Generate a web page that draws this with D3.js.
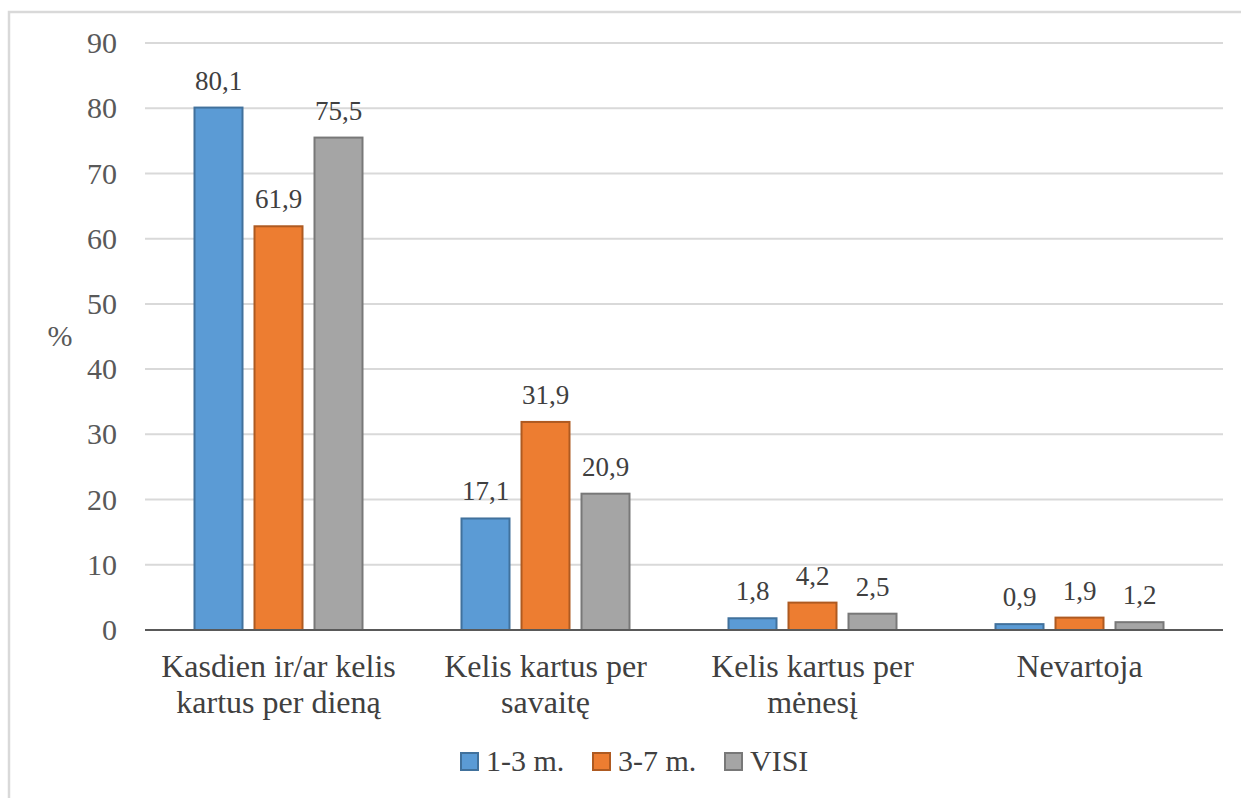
<!DOCTYPE html>
<html>
<head>
<meta charset="utf-8">
<script src="https://cdn.jsdelivr.net/npm/d3@7"></script>
<style>
  html, body { margin: 0; padding: 0; background: #fff; }
</style>
</head>
<body>
<svg id="chart" width="1241" height="798"></svg>
<script>
// Vartojimo dažnis pagal amžiaus grupes (%)
const categories = [
  ["Kasdien ir/ar kelis", "kartus per dieną"],
  ["Kelis kartus per", "savaitę"],
  ["Kelis kartus per", "mėnesį"],
  ["Nevartoja"]
];
const seriesNames = ["1-3 m.", "3-7 m.", "VISI"];
const values13 = [80.1, 17.1, 1.8, 0.9];
const values37 = [61.9, 31.9, 4.2, 1.9];
const valuesVisi = [75.5, 20.9, 2.5, 1.2];
const yTicks = [0, 10, 20, 30, 40, 50, 60, 70, 80, 90];

const fills = ["#5B9BD5", "#ED7D31", "#A5A5A5"];
const strokes = ["#41719C", "#AE5A21", "#787878"];
const seriesValues = [values13, values37, valuesVisi];
const FONT = '"Liberation Serif"';

const svg = d3.select("#chart");

// outer chart frame
svg.append("rect")
  .attr("x", 9).attr("y", 12)
  .attr("width", 1400).attr("height", 1000)
  .attr("fill", "none")
  .attr("stroke", "#d9d9d9")
  .attr("stroke-width", 2.5);

const plotLeft = 145, plotRight = 1223;
const y = d3.scaleLinear().domain([0, 90]).range([630, 43]);

const catIdx = d3.range(categories.length);
const x0 = d3.scaleBand().domain(catIdx).range([plotLeft, 1213]);
const x1 = d3.scaleBand().domain(d3.range(seriesNames.length))
  .range([0, 168]).paddingInner(0.2);

// horizontal gridlines
svg.append("g")
  .selectAll("line")
  .data(yTicks.filter(d => d !== 0))
  .join("line")
  .attr("x1", plotLeft).attr("x2", plotRight)
  .attr("y1", d => y(d)).attr("y2", d => y(d))
  .attr("stroke", "#d9d9d9")
  .attr("stroke-width", 2);

// y axis tick labels
const yAxis = d3.axisLeft(y).tickValues(yTicks).tickSize(0).tickPadding(28);
const gy = svg.append("g").attr("transform", `translate(${plotLeft},0)`).call(yAxis);
gy.attr("font-family", null);
gy.select(".domain").remove();
gy.selectAll("text")
  .style("font-family", FONT)
  .style("font-size", "30px")
  .attr("fill", "#595959");

// y axis title
svg.append("text")
  .attr("x", 60).attr("y", 339)
  .attr("text-anchor", "middle")
  .attr("dominant-baseline", "middle")
  .style("font-family", FONT)
  .style("font-size", "30px")
  .attr("fill", "#595959")
  .text("%");

// bars
const groups = svg.append("g")
  .selectAll("g")
  .data(catIdx)
  .join("g")
  .attr("transform", i => `translate(${x0(i) + x0.bandwidth() / 2 - 84},0)`);

groups.selectAll("rect")
  .data(i => seriesValues.map((vals, s) => ({ s, v: vals[i] })))
  .join("rect")
  .attr("x", d => x1(d.s))
  .attr("width", x1.bandwidth())
  .attr("y", d => y(d.v))
  .attr("height", d => y(0) - y(d.v))
  .attr("fill", d => fills[d.s])
  .attr("stroke", d => strokes[d.s])
  .attr("stroke-width", 2);

// value labels
groups.selectAll("text.val")
  .data(i => seriesValues.map((vals, s) => ({ s, v: vals[i] })))
  .join("text")
  .attr("class", "val")
  .attr("x", d => x1(d.s) + x1.bandwidth() / 2)
  .attr("y", d => y(d.v) - 18)
  .attr("text-anchor", "middle")
  .style("font-family", FONT)
  .style("font-size", "27px")
  .attr("fill", "#404040")
  .text(d => d.v.toFixed(1).replace(".", ","));

// x axis line
svg.append("line")
  .attr("x1", plotLeft).attr("x2", plotRight)
  .attr("y1", y(0)).attr("y2", y(0))
  .attr("stroke", "#595959")
  .attr("stroke-width", 2);

// category labels
const catLabels = svg.append("g")
  .selectAll("text")
  .data(catIdx)
  .join("text")
  .attr("x", i => x0(i) + x0.bandwidth() / 2)
  .attr("y", 677)
  .attr("text-anchor", "middle")
  .style("font-family", FONT)
  .style("font-size", "32px")
  .attr("fill", "#404040");
catLabels.selectAll("tspan")
  .data(i => categories[i].map((t, k) => ({ t, k, i })))
  .join("tspan")
  .attr("x", d => x0(d.i) + x0.bandwidth() / 2)
  .attr("dy", d => d.k === 0 ? 0 : 36)
  .text(d => d.t);

// legend
const legendX = [461, 593, 725];
const legend = svg.append("g")
  .selectAll("g")
  .data(seriesNames)
  .join("g")
  .attr("transform", (d, s) => `translate(${legendX[s]},753)`);
legend.append("rect")
  .attr("width", 17).attr("height", 17)
  .attr("fill", (d, s) => fills[s])
  .attr("stroke", (d, s) => strokes[s])
  .attr("stroke-width", 2);
legend.append("text")
  .attr("x", 25).attr("y", 18)
  .style("font-family", FONT)
  .style("font-size", "30px")
  .attr("fill", "#404040")
  .text(d => d);
</script>
</body>
</html>
